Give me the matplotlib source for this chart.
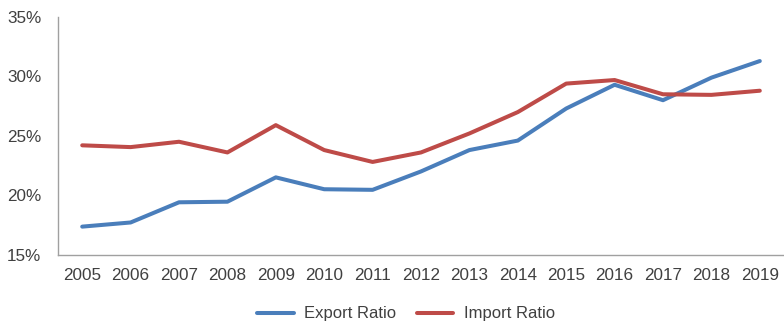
import matplotlib
matplotlib.use("Agg")
import matplotlib.pyplot as plt
from matplotlib.ticker import FuncFormatter

plt.rcParams['font.family'] = ['Liberation Sans', 'DejaVu Sans']

years = list(range(2005, 2020))
export_ratio = [17.35, 17.7, 19.4, 19.45, 21.5, 20.5, 20.45, 22.0, 23.8, 24.6,
                27.3, 29.3, 28.0, 29.9, 31.3]
import_ratio = [24.2, 24.05, 24.5, 23.6, 25.9, 23.8, 22.8, 23.6, 25.2, 27.0,
                29.4, 29.7, 28.5, 28.45, 28.8]

text_col = '#404040'
fig = plt.figure(figsize=(7.84, 3.23), dpi=100)
ax = fig.add_axes([0.074, 0.212, 0.926, 0.735])

ax.plot(years, export_ratio, color='#4A7EBB', lw=2.9, label='Export Ratio',
        solid_capstyle='round', solid_joinstyle='round')
ax.plot(years, import_ratio, color='#BE4B48', lw=2.9, label='Import Ratio',
        solid_capstyle='round', solid_joinstyle='round')

ax.set_xlim(2004.5, 2019.5)
ax.set_ylim(15, 35)
ax.set_xticks(years)
ax.set_yticks([15, 20, 25, 30, 35])
ax.yaxis.set_major_formatter(FuncFormatter(lambda v, p: f'{v:.0f}%'))
ax.tick_params(length=0, labelsize=12.3, colors=text_col)
ax.tick_params(axis='y', pad=12)
ax.tick_params(axis='x', pad=10)

for s in ['top', 'right']:
    ax.spines[s].set_visible(False)
for s in ['left', 'bottom']:
    ax.spines[s].set_color('#a0a0a0')
    ax.spines[s].set_linewidth(1.0)

leg = fig.legend(loc='center', bbox_to_anchor=(0.518, 0.028), ncol=2, frameon=False,
                 fontsize=12, handlelength=2.2, columnspacing=1.2, handletextpad=0.65,
                 borderpad=0, borderaxespad=0)
for t in leg.get_texts():
    t.set_color(text_col)

fig.savefig('out.png', dpi=100)
